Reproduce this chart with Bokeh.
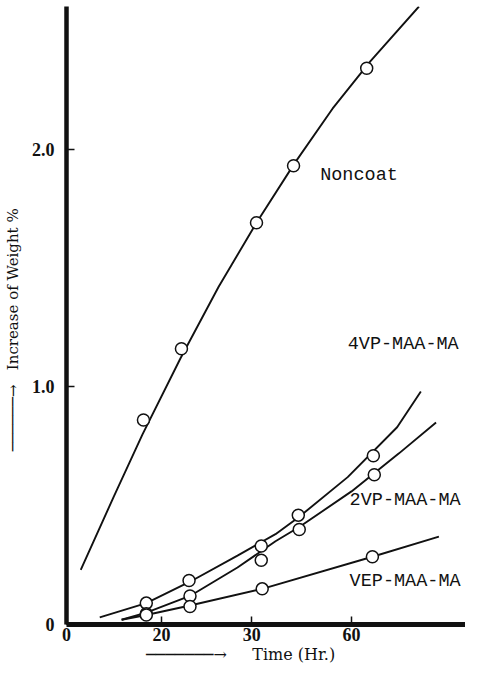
from bokeh.plotting import figure
from bokeh.models import FixedTicker, Range1d, Label
from bokeh.embed import file_html
from bokeh.resources import INLINE

# ---------------- data ----------------
# x axis units: the ticks labelled 0, 20, 30, 60 sit at 0, 10, 19.5, 30
x_tick_pos = [0, 10, 19.5, 30]
x_tick_labels = ["0", "20", "30", "60"]
y_tick_pos = [0, 1, 2]
y_tick_labels = ["0", "1.0", "2.0"]

x_title = "Time (Hr.)"
y_title = "Increase of Weight %"
series_names = ["Noncoat", "4VP-MAA-MA", "2VP-MAA-MA", "VEP-MAA-MA"]

# measured points
noncoat_x = [8.1, 12.1, 20.0, 23.9, 31.6]
noncoat_y = [0.86, 1.16, 1.69, 1.93, 2.34]
vp4_x = [8.4, 12.9, 20.5, 24.4, 32.3]
vp4_y = [0.09, 0.185, 0.33, 0.46, 0.71]
vp2_x = [8.4, 13.0, 20.5, 24.5, 32.4]
vp2_y = [0.045, 0.12, 0.27, 0.40, 0.63]
vep_x = [8.4, 13.0, 20.6, 32.2]
vep_y = [0.04, 0.076, 0.15, 0.285]

# hand-drawn smooth curves
noncoat_cx = [1.5, 5, 8, 12, 16, 20, 24, 28, 32, 37.1]
noncoat_cy = [0.23, 0.54, 0.80, 1.12, 1.42, 1.69, 1.94, 2.17, 2.37, 2.60]
vp4_cx = [3.5, 8.4, 13, 18, 22, 24.4, 29.6, 34.8, 37.3]
vp4_cy = [0.03, 0.09, 0.18, 0.29, 0.38, 0.45, 0.62, 0.83, 0.98]
vp2_cx = [5.8, 8.4, 13, 18, 22, 24.5, 30, 35, 38.9]
vp2_cy = [0.02, 0.05, 0.12, 0.24, 0.35, 0.41, 0.56, 0.72, 0.85]
vep_cx = [5.8, 8.4, 13, 20.6, 32.2, 39.2]
vep_cy = [0.02, 0.04, 0.08, 0.15, 0.285, 0.37]

# ---------------- styling ----------------
SERIF = "Liberation Serif"
TITLE_FONT = "DejaVu Serif"
MONO = "Liberation Mono"
INK = "#111111"
NB = "\u00a0"
LINE = "\u2500"
ARROW = "\u2192"

p = figure(width=465, height=667, output_backend="svg", toolbar_location=None,
           x_range=Range1d(0, 42), y_range=Range1d(0, 2.6),
           min_border_left=61, min_border_right=0, min_border_top=6,
           min_border_bottom=43)
p.outline_line_color = None
p.xgrid.visible = False
p.ygrid.visible = False
p.background_fill_color = "white"

for ax in (p.xaxis[0], p.yaxis[0]):
    ax.axis_line_color = INK
    ax.major_tick_in = 8
    ax.major_tick_out = 0
    ax.major_tick_line_width = 1.5
    ax.major_tick_line_color = INK
    ax.minor_tick_line_color = None
    ax.major_label_text_font = SERIF
    ax.major_label_text_font_style = "bold"
    ax.major_label_text_font_size = "18px"
    ax.major_label_text_color = INK
    ax.axis_label_text_font = TITLE_FONT
    ax.axis_label_text_font_style = "normal"
    ax.axis_label_text_color = INK
p.xaxis.axis_line_width = 5
p.yaxis.axis_line_width = 4.5

p.xaxis.ticker = FixedTicker(ticks=x_tick_pos)
p.xaxis.major_label_overrides = dict(zip(x_tick_pos, x_tick_labels))
p.xaxis.major_label_standoff = 3
p.xaxis.axis_label = LINE * 7 + ARROW + NB * 5 + x_title + NB * 10
p.xaxis.axis_label_text_font_size = "16px"
p.xaxis.axis_label_standoff = 1

p.yaxis.ticker = FixedTicker(ticks=y_tick_pos)
p.yaxis.major_label_overrides = dict(zip(y_tick_pos, y_tick_labels))
p.yaxis.major_label_standoff = 12
p.yaxis.axis_label = LINE * 6 + ARROW + NB * 3 + y_title + NB * 6
p.yaxis.axis_label_text_font_size = "15px"
p.yaxis.axis_label_standoff = 7

curves = [(noncoat_cx, noncoat_cy), (vp4_cx, vp4_cy), (vp2_cx, vp2_cy), (vep_cx, vep_cy)]
for cx, cy in curves:
    p.line(cx, cy, line_color=INK, line_width=1.9)

points = [(noncoat_x, noncoat_y), (vp4_x, vp4_y), (vp2_x, vp2_y), (vep_x, vep_y)]
for px, py in points:
    p.scatter(px, py, marker="circle", size=12, fill_color="white",
              line_color=INK, line_width=1.5)

label_pos = [(26.7, 1.89), (29.6, 1.18), (29.8, 0.52), (29.8, 0.18)]
for name, (lx, ly) in zip(series_names, label_pos):
    p.add_layout(Label(x=lx, y=ly, text=name, text_font=MONO,
                       text_font_size="18.5px", text_color=INK,
                       text_baseline="middle", text_align="left"))

open("out.html", "w").write(file_html(p, INLINE))
